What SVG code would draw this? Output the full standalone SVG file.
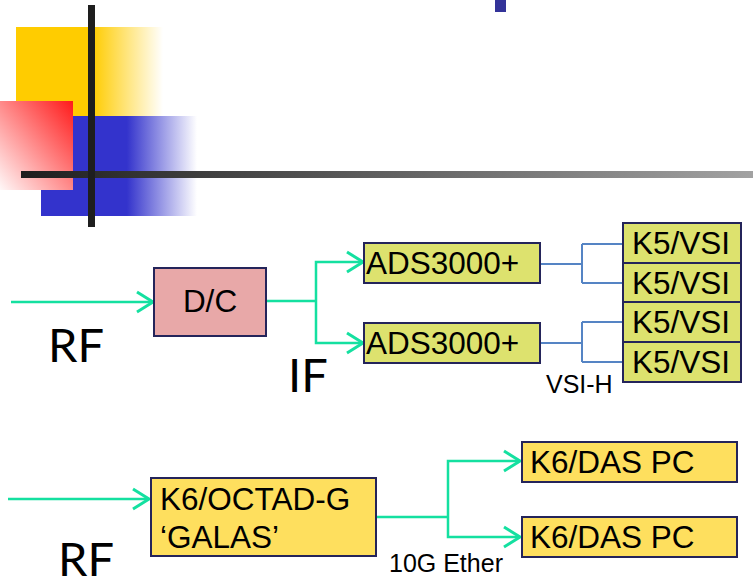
<svg xmlns="http://www.w3.org/2000/svg" width="753" height="579" viewBox="0 0 753 579">
<defs>
<linearGradient id="gY" x1="0" y1="0" x2="1" y2="0"><stop offset="0" stop-color="#ffcc00"/><stop offset="0.52" stop-color="#ffcc00"/><stop offset="1" stop-color="#ffcc00" stop-opacity="0"/></linearGradient>
<linearGradient id="gB" x1="0" y1="0" x2="1" y2="0"><stop offset="0" stop-color="#3333cc"/><stop offset="0.55" stop-color="#3333cc"/><stop offset="1" stop-color="#3333cc" stop-opacity="0"/></linearGradient>
<linearGradient id="gR" x1="1" y1="0" x2="0" y2="1"><stop offset="0" stop-color="#ff1a1a"/><stop offset="1" stop-color="#fff8f8"/></linearGradient>
<linearGradient id="gL" x1="0" y1="0" x2="1" y2="0"><stop offset="0" stop-color="#1e1e1e"/><stop offset="1" stop-color="#a2a2a2"/></linearGradient>
<marker id="ah" markerUnits="userSpaceOnUse" markerWidth="24" markerHeight="24" viewBox="-20 -12 24 24" refX="0" refY="0" orient="auto" overflow="visible">
<path d="M-16,-10 L0,0 L-16,10" fill="none" stroke="#14e0a0" stroke-width="3"/>
</marker>
</defs>
<style>
.box{stroke:#24245a;stroke-width:2}
.pink{fill:#e8a8a8}
.lime{fill:#dde26e}
.gold{fill:#fedf5e}
.t{font-family:"Liberation Sans",Arial,sans-serif;font-size:31.5px;fill:#000}
.s{font-family:"Liberation Sans",Arial,sans-serif;font-size:25px;fill:#000}
.big{font-family:Lato,"Noto Sans",sans-serif;font-size:47px;fill:#000}
.g{fill:none;stroke:#14e0a0;stroke-width:2.5}
.b{fill:none;stroke:#5584c4;stroke-width:2}
</style>
<g id="decor">
<rect x="16" y="27" width="147" height="89" fill="url(#gY)"/>
<rect x="41" y="116" width="156" height="100" fill="url(#gB)"/>
<rect x="0" y="101" width="73" height="89" fill="url(#gR)"/>
<rect x="21" y="171" width="732" height="7" fill="url(#gL)"/>
<rect x="88" y="5" width="7" height="222" fill="#1e1e1e"/>
<rect x="495" y="0" width="11" height="12" fill="#333399"/>
</g>
<g id="connectors">
<path class="g" d="M11,302 H153" marker-end="url(#ah)"/>
<path class="g" d="M266,301 H316" stroke-width="3"/>
<path class="g" d="M316,301 V262 H363" marker-end="url(#ah)"/>
<path class="g" d="M316,301 V343 H363" marker-end="url(#ah)"/>
<path class="b" d="M540,264 H582 M582,244 V283 M582,244 H623 M582,283 H623"/>
<path class="b" d="M540,343 H582 M582,322 V362 M582,322 H623 M582,362 H623"/>
<path class="g" d="M8,499 H149" marker-end="url(#ah)"/>
<path class="g" d="M376,517 H448"/>
<path class="g" d="M448,517 V461 H520" marker-end="url(#ah)"/>
<path class="g" d="M448,517 V537 H520" marker-end="url(#ah)"/>
</g>
<g id="dc"><rect class="box pink" x="154" y="268" width="112" height="68"/><text class="t" x="210" y="312" text-anchor="middle">D/C</text></g>
<g id="ads1"><rect class="box lime" x="364" y="243" width="176" height="40"/><text class="t" x="366" y="274">ADS3000+</text></g>
<g id="ads2"><rect class="box lime" x="364" y="323" width="176" height="40"/><text class="t" x="366" y="354">ADS3000+</text></g>
<g id="k5a"><rect class="box lime" x="623" y="223" width="118" height="40"/><text class="t" x="632" y="254">K5/VSI</text></g>
<g id="k5b"><rect class="box lime" x="623" y="263" width="118" height="39"/><text class="t" x="632" y="294">K5/VSI</text></g>
<g id="k5c"><rect class="box lime" x="623" y="302" width="118" height="40"/><text class="t" x="632" y="333">K5/VSI</text></g>
<g id="k5d"><rect class="box lime" x="623" y="342" width="118" height="40"/><text class="t" x="632" y="373">K5/VSI</text></g>
<g id="octad"><rect class="box gold" x="151" y="478" width="225" height="78"/><text class="t" x="160" y="510">K6/OCTAD-G</text><text class="t" x="160" y="548">‘GALAS’</text></g>
<g id="das1"><rect class="box gold" x="522" y="442" width="215" height="40"/><text class="t" x="530" y="473">K6/DAS PC</text></g>
<g id="das2"><rect class="box gold" x="522" y="517" width="215" height="40"/><text class="t" x="530" y="548">K6/DAS PC</text></g>
<g id="labels">
<text class="big" x="48" y="362">RF</text>
<text class="big" x="288" y="392">IF</text>
<text class="big" x="58" y="576">RF</text>
<text class="s" x="546" y="393">VSI-H</text>
<text class="s" x="389" y="572">10G Ether</text>
</g>
</svg>
